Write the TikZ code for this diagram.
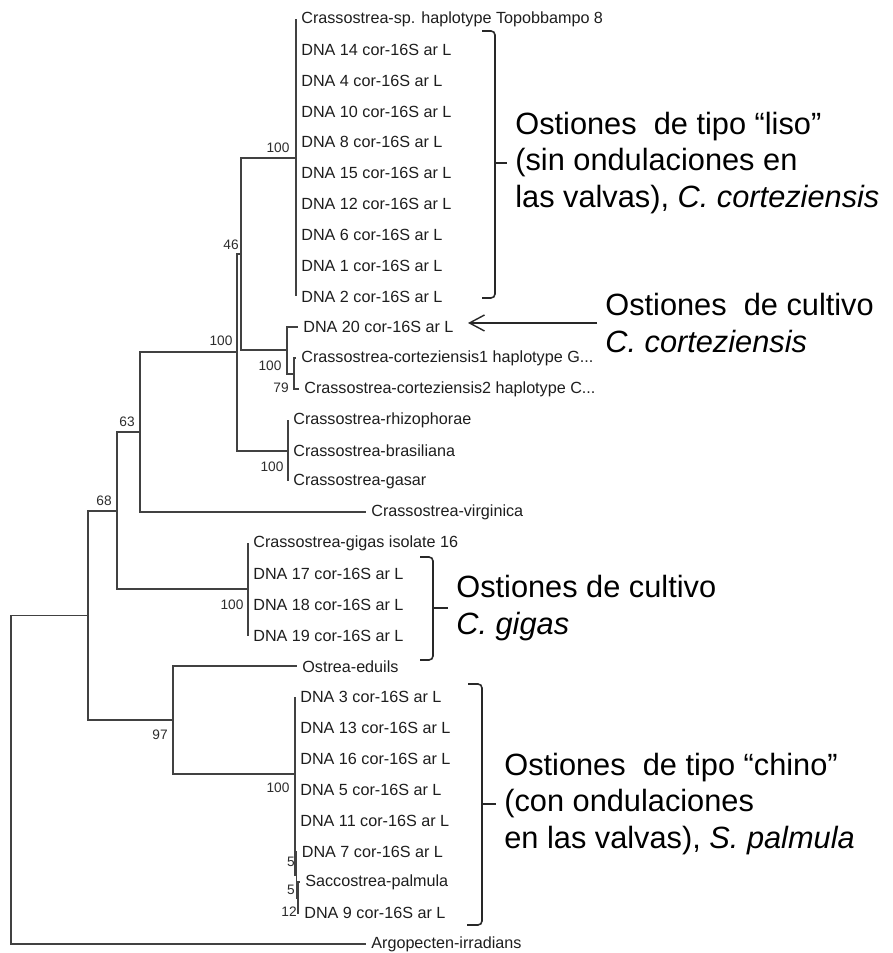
\documentclass[tikz,border=0pt]{standalone}
\usepackage{fontspec}
\setmainfont{Liberation Sans}
\usetikzlibrary{arrows.meta}

\begin{document}
\begin{tikzpicture}[
    branch/.style={draw={rgb,255:red,65;green,65;blue,65}, line width=1.1pt},
    leaf/.style={anchor=west, inner xsep=0.1cm, inner ysep=1pt, text={rgb,255:red,30;green,30;blue,30}, font=\fontsize{9.2}{11}\selectfont},
    boot/.style={inner sep=0pt, text={rgb,255:red,45;green,45;blue,45}, font=\fontsize{7.8}{9}\selectfont},
    grouplabel/.style={anchor=west, inner xsep=0.16cm, inner ysep=0.05cm, align=left, text={rgb,255:red,0;green,0;blue,0}, font=\fontsize{17.5}{21}\selectfont},
    bracket/.style={draw={rgb,255:red,40;green,40;blue,40}, line width=0.9pt, rounded corners=0.08cm}
]

    \fill[white] (0,0) rectangle (17.84,19.06);
    \useasboundingbox (0,0) rectangle (17.84,19.06);

    
    \node[leaf] (ndCspTopo) at (5.92,18.68) {Crassostrea-sp. haplotype Topobbampo 8};
    \node[leaf] (ndDna14) at (5.92,18.064) {DNA 14 cor-16S ar L};
    \node[leaf] (ndDna4) at (5.92,17.447) {DNA 4 cor-16S ar L};
    \node[leaf] (ndDna10) at (5.92,16.83) {DNA 10 cor-16S ar L};
    \node[leaf] (ndDna8) at (5.92,16.213) {DNA 8 cor-16S ar L};
    \node[leaf] (ndDna15) at (5.92,15.597) {DNA 15 cor-16S ar L};
    \node[leaf] (ndDna12) at (5.92,14.98) {DNA 12 cor-16S ar L};
    \node[leaf] (ndDna6) at (5.92,14.363) {DNA 6 cor-16S ar L};
    \node[leaf] (ndDna1) at (5.92,13.747) {DNA 1 cor-16S ar L};
    \node[leaf] (ndDna2) at (5.92,13.13) {DNA 2 cor-16S ar L};
    \node[leaf] (ndDna20) at (5.96,12.513) {DNA 20 cor-16S ar L};
    \node[leaf] (ndCort1) at (5.92,11.897) {Crassostrea-corteziensis1 haplotype G...};
    \node[leaf] (ndCort2) at (5.98,11.28) {Crassostrea-corteziensis2 haplotype C...};
    \node[leaf] (ndRhiz) at (5.76,10.663) {Crassostrea-rhizophorae};
    \node[leaf] (ndBras) at (5.76,10.047) {Crassostrea-brasiliana};
    \node[leaf] (ndGasar) at (5.76,9.43) {Crassostrea-gasar};
    \node[leaf] (ndVirginica) at (7.32,8.813) {Crassostrea-virginica};
    \node[leaf] (ndGigas16) at (4.96,8.197) {Crassostrea-gigas isolate 16};
    \node[leaf] (ndDna17) at (4.96,7.58) {DNA 17 cor-16S ar L};
    \node[leaf] (ndDna18) at (4.96,6.963) {DNA 18 cor-16S ar L};
    \node[leaf] (ndDna19) at (4.96,6.347) {DNA 19 cor-16S ar L};
    \node[leaf] (ndOstrea) at (5.94,5.731) {Ostrea-eduils};
    \node[leaf] (ndDna3) at (5.90,5.114) {DNA 3 cor-16S ar L};
    \node[leaf] (ndDna13) at (5.90,4.497) {DNA 13 cor-16S ar L};
    \node[leaf] (ndDna16) at (5.90,3.881) {DNA 16 cor-16S ar L};
    \node[leaf] (ndDna5) at (5.90,3.264) {DNA 5 cor-16S ar L};
    \node[leaf] (ndDna11) at (5.90,2.647) {DNA 11 cor-16S ar L};
    \node[leaf] (ndDna7) at (5.93,2.031) {DNA 7 cor-16S ar L};
    \node[leaf] (ndSacco) at (6.0,1.414) {Saccostrea-palmula};
    \node[leaf] (ndDna9) at (5.98,0.798) {DNA 9 cor-16S ar L};
    \node[leaf] (ndArgopecten) at (7.32,0.18) {Argopecten-irradians};

    
    \coordinate (ndJoinTop) at (5.92,15.905);
    \coordinate (ndJoinCort) at (5.88,11.589);
    \coordinate (ndJoinD20) at (5.74,12.052);
    \coordinate (ndJoin46) at (4.82,13.978);
    \coordinate (ndJoinRhiz) at (5.76,10.047);
    \coordinate (ndJoin100) at (4.74,12.013);
    \coordinate (ndJoin63) at (2.8,10.414);
    \coordinate (ndJoinGigas) at (4.96,7.273);
    \coordinate (ndJoin68) at (2.34,8.844);
    \coordinate (ndJoinC) at (5.96,1.106);
    \coordinate (ndJoinB) at (5.93,1.569);
    \coordinate (ndJoinChino) at (5.90,3.58);
    \coordinate (ndJoin97) at (3.46,4.656);
    \coordinate (ndJoinMid) at (1.76,6.75);
    \coordinate (ndRoot) at (0.22,3.465);

    
    \draw[branch] (ndJoinTop) |- (ndCspTopo.west);
    \draw[branch] (ndJoinTop) |- (ndDna2.west);
    \draw[branch] (ndJoin46) |- (ndJoinTop);
    \draw[branch] (ndJoin46) |- (ndJoinD20);
    \draw[branch] (ndJoinD20) |- (ndDna20.west);
    \draw[branch] (ndJoinD20) |- (ndJoinCort);
    \draw[branch] (ndJoinCort) |- (ndCort1.west);
    \draw[branch] (ndJoinCort) |- (ndCort2.west);
    \draw[branch] (ndJoinRhiz) |- (ndRhiz.west);
    \draw[branch] (ndJoinRhiz) |- (ndGasar.west);
    \draw[branch] (ndJoin100) |- (ndJoin46);
    \draw[branch] (ndJoin100) |- (ndJoinRhiz);
    \draw[branch] (ndJoin63) |- (ndJoin100);
    \draw[branch] (ndJoin63) |- (ndVirginica.west);
    \draw[branch] (ndJoinGigas) |- (ndGigas16.west);
    \draw[branch] (ndJoinGigas) |- (ndDna19.west);
    \draw[branch] (ndJoin68) |- (ndJoin63);
    \draw[branch] (ndJoin68) |- (ndJoinGigas);
    \draw[branch] (ndJoinC) |- (ndSacco.west);
    \draw[branch] (ndJoinC) |- (ndDna9.west);
    \draw[branch] (ndJoinB) |- (ndDna7.west);
    \draw[branch] (ndJoinB) |- (ndJoinC);
    \draw[branch] (ndJoinChino) |- (ndDna3.west);
    \draw[branch] (ndJoinChino) |- (ndJoinB);
    \draw[branch] (ndJoin97) |- (ndOstrea.west);
    \draw[branch] (ndJoin97) |- (ndJoinChino);
    \draw[branch] (ndJoinMid) |- (ndJoin68);
    \draw[branch] (ndJoinMid) |- (ndJoin97);
    \draw[branch] (ndRoot) |- (ndJoinMid);
    \draw[branch] (ndRoot) |- (ndArgopecten.west);

    
    \node[boot] (ndBootTop) at (5.56,16.1) {100};
    \node[boot] (ndBoot46) at (4.62,14.16) {46};
    \node[boot] (ndBoot100) at (4.42,12.24) {100};
    \node[boot] (ndBootD20) at (5.4,11.74) {100};
    \node[boot] (ndBootCort) at (5.62,11.3) {79};
    \node[boot] (ndBootRhiz) at (5.44,9.72) {100};
    \node[boot] (ndBoot63) at (2.54,10.62) {63};
    \node[boot] (ndBoot68) at (2.08,9.04) {68};
    \node[boot] (ndBootGigas) at (4.64,6.96) {100};
    \node[boot] (ndBoot97) at (3.2,4.36) {97};
    \node[boot] (ndBootChino) at (5.56,3.3) {100};
    \node[boot] (ndBootB) at (5.82,1.82) {5};
    \node[boot] (ndBootC) at (5.82,1.26) {5};
    \node[boot] (ndBootD) at (5.78,0.82) {12};

    
    \node[grouplabel] (ndLiso) at (10.14,15.8) {Ostiones\ \ de tipo “liso”\\(sin ondulaciones en\\las valvas), \textit{C. corteziensis}};
    \node[grouplabel] (ndCultCort) at (11.94,12.6) {Ostiones\ \ de cultivo\\\textit{C. corteziensis}};
    \node[grouplabel] (ndCultGigas) at (8.96,6.9) {Ostiones de cultivo\\\textit{C. gigas}};
    \node[grouplabel] (ndChino) at (9.92,2.98) {Ostiones\ \ de tipo “chino”\\(con ondulaciones\\en las valvas), \textit{S. palmula}};

    \coordinate (ndBrLisoTop) at (9.64,18.44);
    \coordinate (ndBrLisoBot) at (9.9,13.1);
    \coordinate (ndBrLisoEnd) at (9.64,13.1);
    \coordinate (ndBrLisoMid) at (9.9,15.8);
    \draw[bracket] (ndBrLisoTop) -| (ndBrLisoBot) -- (ndBrLisoEnd);
    \draw[bracket] (ndBrLisoMid) -- (ndLiso.west);

    \coordinate (ndBrGigasTop) at (8.4,7.92);
    \coordinate (ndBrGigasBot) at (8.66,5.86);
    \coordinate (ndBrGigasEnd) at (8.4,5.86);
    \coordinate (ndBrGigasMid) at (8.66,6.9);
    \draw[bracket] (ndBrGigasTop) -| (ndBrGigasBot) -- (ndBrGigasEnd);
    \draw[bracket] (ndBrGigasMid) -- (ndCultGigas.west);

    \coordinate (ndBrChinoTop) at (9.36,5.38);
    \coordinate (ndBrChinoBot) at (9.64,0.56);
    \coordinate (ndBrChinoEnd) at (9.34,0.56);
    \coordinate (ndBrChinoMid) at (9.64,2.98);
    \draw[bracket] (ndBrChinoTop) -| (ndBrChinoBot) -- (ndBrChinoEnd);
    \draw[bracket] (ndBrChinoMid) -- (ndChino.west);

    \coordinate (ndArrowTip) at (9.36,12.6);
    \draw[draw={rgb,255:red,40;green,40;blue,40}, line width=0.8pt, -{Straight Barb[length=0.3cm, width=0.32cm]}] (ndCultCort.west) -- (ndArrowTip);
\end{tikzpicture}
\end{document}
